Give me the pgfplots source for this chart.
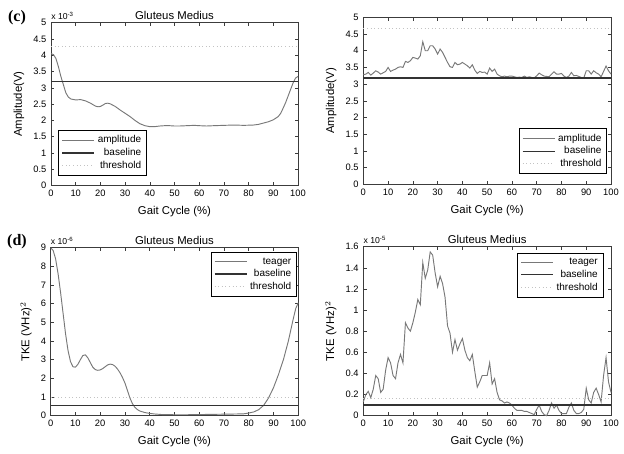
\documentclass[border=0pt]{standalone}
\usepackage{pgfplots}
\pgfplotsset{compat=1.18}
\usepackage{fontspec}
\setmainfont{Liberation Sans}
\newfontfamily\serifb{Liberation Serif}

\definecolor{curve}{RGB}{120,120,120}
\definecolor{base}{RGB}{50,50,50}
\definecolor{thr}{RGB}{195,195,195}
\definecolor{frame}{RGB}{60,60,60}

\pgfplotsset{
  gait/.style={
    scale only axis,
    anchor=north west,
    clip=false,
    xmin=0, xmax=100,
    xtick={0,10,...,100},
    tick align=inside,
    major tick length=2.5pt,
    axis line style={frame, line width=0.6pt},
    every tick/.style={frame, line width=0.4pt},
    tick label style={font=\fontsize{7}{8}\selectfont},
    label style={font=\fontsize{8.5}{10}\selectfont},
    every axis title/.style={at={(0.5,1)}, anchor=south, yshift=-1pt,
      font=\fontsize{8.5}{10}\selectfont},
    /pgf/number format/assume math mode=true,
    scaled y ticks=false,
    xlabel={Gait Cycle (\%)},
    legend style={font=\fontsize{7.5}{9}\selectfont, draw=black, line width=0.7pt,
      row sep=-1.5pt, inner sep=2pt},
    legend cell align=right,
    legend image code/.code={\draw[##1] (0cm,0cm) -- (0.85cm,0cm);},
  },
  amp/.style={curve, line width=0.7pt},
  bl/.style={base, line width=1.0pt},
  th/.style={thr, line width=0.7pt, dotted},
}

\begin{document}
\begin{tikzpicture}
\path[use as bounding box] (0,0) rectangle (468pt,-339.75pt);

% (c) left
\begin{axis}[gait, at={(38.25pt,-17pt)}, width=185.25pt, height=122.25pt,
  ymin=0, ymax=5, ytick={0,0.5,...,5},
  title={Gluteus Medius}, ylabel={Amplitude(V)},
  legend style={at={(0.03,0.06)}, anchor=south west}]
\addplot[amp] coordinates {
(0,4.05) (1,4.02) (2,3.9) (3,3.65) (4,3.35) (5,3.1) (6,2.85) (7,2.72) (8,2.66) (10,2.63)
(12,2.64) (14,2.6) (16,2.53) (18,2.44) (19,2.42) (20,2.43) (21,2.47) (22,2.52) (23,2.53)
(24,2.51) (26,2.43) (28,2.32) (30,2.22) (32,2.12) (34,2.0) (36,1.9) (38,1.84) (40,1.81)
(42,1.81) (44,1.83) (46,1.84) (48,1.84) (50,1.83) (52,1.83) (55,1.84) (58,1.85) (60,1.84)
(63,1.83) (66,1.84) (70,1.85) (74,1.86) (78,1.85) (82,1.86) (84,1.88) (86,1.92) (88,1.96)
(90,2.02) (92,2.12) (93,2.22) (94,2.38) (95,2.55) (96,2.75) (97,2.95) (98,3.15) (99,3.3) (100,3.35)};
\addlegendentry{amplitude}
\addplot[bl] coordinates {(0,3.2) (100,3.2)};
\addlegendentry{baseline}
\addplot[th] coordinates {(0,4.28) (100,4.28)};
\addlegendentry{threshold}
\node[anchor=south west, font=\fontsize{6.5}{8}\selectfont, inner sep=0pt] at (rel axis cs:0,1.015) {x 10\textsuperscript{-3}};
\end{axis}
\node[font=\serifb\bfseries\fontsize{12}{14}\selectfont] at (12.75pt,-13.5pt) {(c)};

% right top
\begin{axis}[gait, at={(272.5pt,-13pt)}, width=185.75pt, height=125.25pt,
  ymin=0, ymax=5, ytick={0,0.5,...,5},
  ylabel={Amplitude(V)},
  legend style={at={(0.985,0.06)}, anchor=south east}]
\addplot[amp] coordinates {
(0,3.28) (1,3.3) (2,3.35) (3,3.27) (4,3.33) (5,3.4) (6,3.36) (7,3.3) (8,3.34) (9,3.38)
(10,3.5) (11,3.38) (12,3.42) (13,3.45) (14,3.5) (15,3.52) (16,3.5) (17,3.68) (18,3.65) (19,3.7)
(20,3.8) (21,3.78) (22,3.75) (23,3.85) (24,4.27) (25,4.0) (26,4.0) (27,4.15) (28,4.15) (29,4.05)
(30,3.9) (31,4.05) (32,3.95) (33,3.8) (34,3.65) (35,3.52) (36,3.5) (37,3.65) (38,3.58) (39,3.6)
(40,3.65) (41,3.6) (42,3.55) (43,3.48) (44,3.58) (45,3.42) (46,3.32) (47,3.38) (48,3.35) (49,3.36)
(50,3.3) (51,3.48) (52,3.38) (53,3.45) (54,3.3) (55,3.25) (56,3.22) (57,3.24) (58,3.22) (59,3.24)
(60,3.24) (61,3.22) (62,3.2) (63,3.21) (64,3.2) (65,3.24) (66,3.2) (67,3.22) (68,3.2) (69,3.19)
(70,3.25) (71,3.33) (72,3.28) (73,3.24) (74,3.23) (75,3.22) (76,3.3) (77,3.37) (78,3.3) (79,3.3)
(80,3.32) (81,3.24) (82,3.2) (83,3.24) (84,3.35) (85,3.25) (86,3.26) (87,3.23) (88,3.2) (89,3.18)
(90,3.4) (91,3.4) (92,3.3) (93,3.4) (94,3.34) (95,3.3) (96,3.22) (97,3.38) (98,3.54) (99,3.4) (100,3.3)};
\addlegendentry{amplitude}
\addplot[bl] coordinates {(0,3.18) (100,3.18)};
\addlegendentry{baseline}
\addplot[th] coordinates {(0,4.68) (100,4.68)};
\addlegendentry{threshold}
\end{axis}

% (d) left
\begin{axis}[gait, at={(38pt,-185.75pt)}, width=185.7pt, height=126pt,
  ymin=0, ymax=9, ytick={0,1,...,9},
  title={Gluteus Medius}, ylabel={TKE (VHz)$^2$},
  legend style={at={(0.995,0.975)}, anchor=north east}]
\addplot[amp] coordinates {
(0,9.0) (1,8.85) (2,8.4) (3,7.6) (4,6.6) (5,5.5) (6,4.4) (7,3.5) (8,2.9) (9,2.62) (10,2.6)
(11,2.75) (12,3.0) (13,3.22) (14,3.26) (15,3.1) (16,2.85) (17,2.6) (18,2.47) (19,2.43) (20,2.45)
(21,2.52) (22,2.62) (23,2.72) (24,2.76) (25,2.74) (26,2.65) (27,2.5) (28,2.3) (29,2.05) (30,1.75)
(31,1.35) (32,0.95) (33,0.65) (34,0.45) (35,0.33) (36,0.25) (38,0.17) (40,0.12) (42,0.09)
(45,0.06) (50,0.05) (55,0.05) (60,0.06) (65,0.07) (70,0.08) (75,0.09) (78,0.1) (80,0.14)
(82,0.2) (84,0.32) (86,0.55) (88,0.95) (90,1.5) (92,2.2) (94,3.0) (96,4.0) (97,4.6) (98,5.2)
(99,5.75) (100,6.05)};
\addlegendentry{teager}
\addplot[bl] coordinates {(0,0.55) (100,0.55)};
\addlegendentry{baseline}
\addplot[th] coordinates {(0,0.97) (100,0.97)};
\addlegendentry{threshold}
\node[anchor=south west, font=\fontsize{6.5}{8}\selectfont, inner sep=0pt] at (rel axis cs:0,1.015) {x 10\textsuperscript{-6}};
\end{axis}
\node[font=\serifb\bfseries\fontsize{12}{14}\selectfont] at (12.75pt,-181.5pt) {(d)};

% right bottom
\begin{axis}[gait, at={(272.5pt,-185pt)}, width=185.75pt, height=126.75pt,
  ymin=0, ymax=1.6, ytick={0,0.2,...,1.6},
  title={Gluteus Medius}, ylabel={TKE (VHz)$^2$},
  legend style={at={(0.97,0.965)}, anchor=north east}]
\addplot[amp] coordinates {
(0,0.13) (1,0.2) (2,0.23) (3,0.17) (4,0.25) (5,0.38) (6,0.35) (7,0.22) (8,0.25) (9,0.43)
(10,0.55) (11,0.5) (12,0.38) (13,0.35) (14,0.5) (15,0.58) (16,0.5) (17,0.88) (18,0.83) (19,0.8)
(20,0.88) (21,0.98) (22,1.1) (23,1.05) (24,1.45) (25,1.3) (26,1.38) (27,1.55) (28,1.52) (29,1.35)
(30,1.22) (31,1.32) (32,1.25) (33,1.12) (34,0.85) (35,0.78) (36,0.6) (37,0.72) (38,0.62) (39,0.68)
(40,0.73) (41,0.62) (42,0.55) (43,0.52) (44,0.58) (45,0.42) (46,0.27) (47,0.32) (48,0.38) (49,0.38)
(50,0.38) (51,0.5) (52,0.3) (53,0.35) (54,0.22) (55,0.15) (56,0.14) (57,0.12) (58,0.13) (59,0.12)
(60,0.1) (61,0.07) (62,0.05) (63,0.05) (64,0.05) (65,0.04) (66,0.04) (67,0.03) (68,0.02) (69,0.01)
(70,0.06) (71,0.1) (72,0.04) (73,0.01) (74,0.0) (75,0.05) (76,0.12) (77,0.07) (78,0.1) (79,0.05)
(80,0.02) (81,0.02) (82,0.02) (83,0.08) (84,0.12) (85,0.05) (86,0.02) (87,0.02) (88,0.03) (89,0.06)
(90,0.26) (91,0.15) (92,0.12) (93,0.22) (94,0.26) (95,0.2) (96,0.13) (97,0.38) (98,0.55) (99,0.32) (100,0.22)};
\addlegendentry{teager}
\addplot[bl] coordinates {(0,0.1) (100,0.1)};
\addlegendentry{baseline}
\addplot[th] coordinates {(0,0.165) (100,0.165)};
\addlegendentry{threshold}
\node[anchor=south west, font=\fontsize{6.5}{8}\selectfont, inner sep=0pt] at (rel axis cs:0,1.015) {x 10\textsuperscript{-5}};
\end{axis}
\end{tikzpicture}
\end{document}
